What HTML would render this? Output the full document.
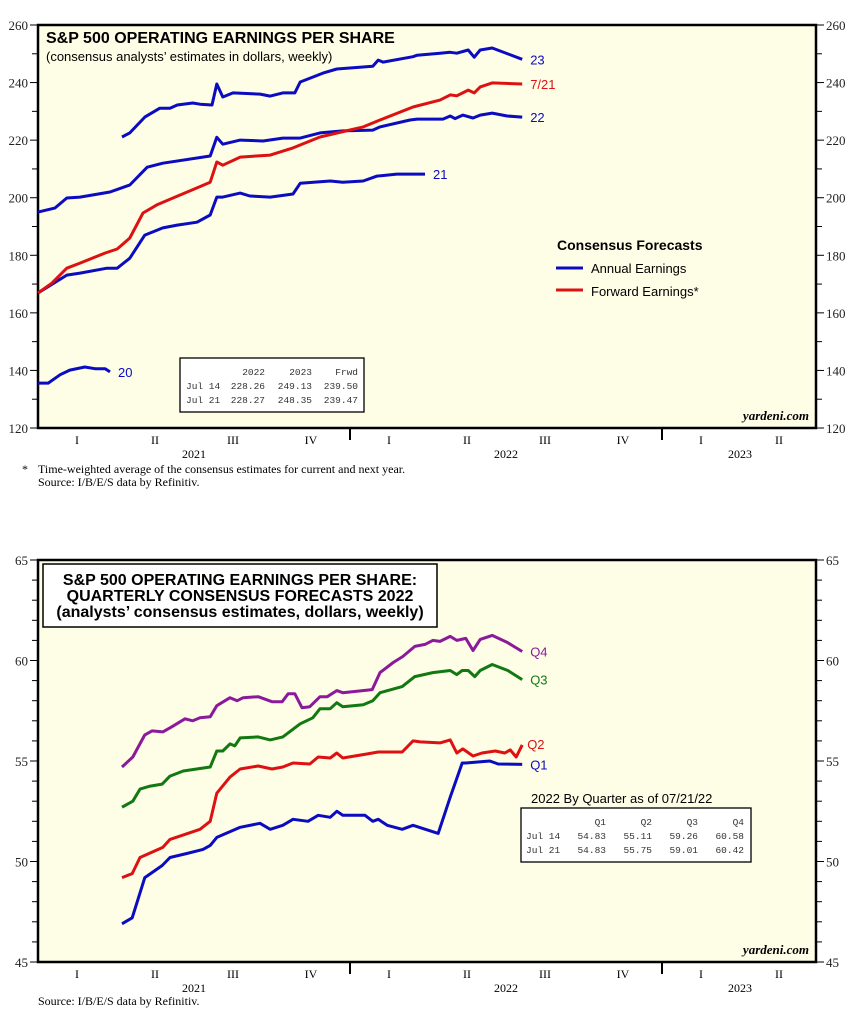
<!DOCTYPE html>
<html><head><meta charset="utf-8"><style>
body{margin:0;background:#fff;width:863px;height:1021px;overflow:hidden}
svg{display:block}
</style></head><body>
<svg id="c" width="863" height="1021" xmlns="http://www.w3.org/2000/svg"></svg>
<script>
// ---- Top chart data (weeks since start of 2021, values in $) ----
const w20=[0,1.7,3.7,5.3,7.8,9.5,11.2,12];
const v20=[135.6,135.6,138.5,140.1,141.2,140.6,140.6,139.5];
const w21=[0,4.8,7,11.5,13.2,15.3,17.8,20.8,23.2,26.5,28.7,29.8,30.8,33.7,35.3,38.7,42.5,43.7,48.7,50.8,54.2,56.5,59.8,64.5];
const v21=[166.9,173.1,173.8,175.5,175.5,179,187,189.5,190.5,191.5,194,200.2,200.2,201.6,200.6,200.2,201.3,205,205.8,205.4,205.8,207.5,208.2,208.2];
const w22=[0,2.8,4.8,7,12,15.3,18.2,20.8,28.7,29.8,30.8,33.7,37.5,40.8,43.7,47,50.8,55.8,57,62,63.2,67.5,68.7,69.5,70.8,72.5,73.7,75.7,78.2,80.7];
const v22=[195,196.4,199.9,200.2,202,204.4,210.6,212,214.5,221,218.6,220,219.7,220.7,220.7,222.5,223.2,223.5,224.6,227,227.3,227.3,228.4,227.5,228.7,227.7,228.7,229.4,228.4,228.0];
const w23=[14,15.3,17.8,20.3,22,23.2,25.8,27,29,29.8,30.8,32.5,37,38.7,40.8,42.8,43.7,47.5,49.8,55.8,56.7,57.5,62.5,63.2,67,68.7,69.8,71.7,72.7,73.7,75.7,80.7];
const v23=[221.1,222.5,228,231.1,231.1,232.2,232.9,232.5,232.2,239.5,235,236.4,236,235.3,236.4,236.4,240.2,243.3,244.7,245.7,247.8,247.1,249,249.5,250.2,250.5,250.2,251.3,248.8,251.3,252,248.1];
const wFw=[0,2.3,4.8,7,11.2,13.2,15.3,17.5,19.8,22.5,26.5,28.7,29.8,30.8,33.7,38.7,42.5,47,54.2,57,62.5,67,68.7,69.8,71.7,72.7,73.7,75.7,80.7];
const vFw=[166.9,170.3,175.5,177.3,180.8,182.2,186,194.7,197.5,199.9,203.4,205.4,212.4,211.3,214.1,214.8,217.3,221.1,224.6,227,231.5,233.9,235.7,235.4,237.4,236.4,238.5,239.9,239.5];
const topTicks=[120,140,160,180,200,220,240,260];
// ---- Bottom chart data ----
const wQ1=[14,15.7,17.8,20.7,22,24.8,27.5,28.7,29.8,33.7,37,38.7,40.8,42.5,45,46.7,48.7,49.8,50.8,54.5,55.8,56.7,58.2,60.7,62.5,66.7,68.7,70.7,71.3,75.3,76.7,80.7];
const vQ1=[46.9,47.2,49.2,49.8,50.2,50.4,50.6,50.8,51.2,51.7,51.9,51.6,51.8,52.1,52,52.3,52.2,52.5,52.3,52.3,52,52.1,51.8,51.6,51.8,51.4,53.2,54.9,54.9,55,54.85,54.83];
const wQ2=[14,15.7,17,20.8,22,27,28.7,29.8,32,33.7,36.7,39,40.8,42.5,45.3,46.7,48.7,49.8,50.8,54.8,56.7,60.7,62.5,63.7,67,68.7,69.8,70.8,72.5,74,76.2,77.8,78.7,79.7,80.7];
const vQ2=[49.2,49.4,50.2,50.7,51.1,51.6,52,53.4,54.2,54.6,54.75,54.6,54.7,54.9,54.85,55.2,55.15,55.4,55.15,55.35,55.45,55.45,56,55.95,55.9,56.05,55.4,55.6,55.25,55.4,55.5,55.4,55.55,55.2,55.8];
const wQ3=[14,15.8,17,18.7,20.7,22,24.2,28.7,29.8,30.8,32,32.8,33.7,36.7,38.7,40.8,43.7,45.8,47,48.7,49.8,50.8,54.2,55.8,57,60.7,62.8,65.8,68.7,69.8,70.7,71.7,72.8,73.7,75.7,78.3,80.7];
const vQ3=[52.7,53,53.6,53.75,53.85,54.25,54.5,54.7,55.5,55.5,55.85,55.75,56.15,56.2,56.05,56.2,56.85,57.15,57.6,57.6,57.9,57.7,57.8,58,58.4,58.7,59.2,59.4,59.5,59.3,59.5,59.5,59.2,59.5,59.8,59.5,59.05];
const wQ4=[14,15.8,17.8,19,20.8,22.3,24.5,25.8,27,28.7,29.8,32,33.2,34.2,36.7,39,40.7,41.7,42.8,44,45.3,47,48.2,49.8,50.8,55.7,57,59.2,60.8,62.8,64.5,65.8,67,68.7,69.8,71.3,72.5,73.7,75.7,78.2,80.7];
const vQ4=[54.7,55.2,56.3,56.5,56.45,56.7,57.1,57,57.15,57.2,57.75,58.15,58,58.15,58.2,57.95,57.95,58.35,58.35,57.65,57.7,58.2,58.2,58.5,58.4,58.55,59.4,59.9,60.2,60.7,60.8,61,60.95,61.2,61.0,61.1,60.5,61.05,61.25,60.9,60.45];
const botTicks=[45,50,55,60,65];
const quarters=['I','II','III','IV','I','II','III','IV','I','II'];
const years=['2021','2022','2023'];

const NS='http://www.w3.org/2000/svg';
const svg=document.getElementById('c');
const X0=38,X1=816,WPX=6;
function mk(tag,attrs,parent){const e=document.createElementNS(NS,tag);for(const k in attrs)e.setAttribute(k,attrs[k]);(parent||svg).appendChild(e);return e;}
function txt(s,x,y,attrs){const e=mk('text',Object.assign({x:x,y:y},attrs));e.textContent=s;return e;}
const xs=w=>X0+w*WPX;

function chart(top,bot,ymin,ymax,major,minorStep,name){
  const ys=v=>bot-(v-ymin)/(ymax-ymin)*(bot-top);
  const g=mk('g',{});
  
  
  const bg=mk('rect',{x:X0,y:top,width:X1-X0,height:bot-top,fill:'#fefde6'},g);
  
  
  for(let v=ymin;v<=ymax+1e-9;v+=minorStep){
    const y=ys(v);
    const isMaj=major.some(m=>Math.abs(m-v)<1e-6);
    const L=isMaj?8:6;
    mk('line',{x1:X0-L,y1:y,x2:X0,y2:y,stroke:'#000','stroke-width':1},g);
    mk('line',{x1:X1,y1:y,x2:X1+L,y2:y,stroke:'#000','stroke-width':1},g);
  }
  major.forEach(m=>{
    const y=ys(m);
    const l=txt(m,X0-10,y+5,{'text-anchor':'end','font-family':'Liberation Serif, serif','font-size':13,fill:'#222'});
    
    
    const r=txt(m,X1+10,y+5,{'font-family':'Liberation Serif, serif','font-size':13,fill:'#222'});
    
    
  });
  mk('rect',{x:X0,y:top,width:X1-X0,height:bot-top,fill:'none',stroke:'#000','stroke-width':2.5},g);
  quarters.forEach((q,i)=>{
    const t=txt(q,xs(i*13+6.5),bot+16,{'text-anchor':'middle','font-family':'Liberation Serif, serif','font-size':12});
    
    
  });
  const yearPos=[26,78,117];
  [0,52,104].forEach((w,i)=>{
    if(w>0)mk('line',{x1:xs(w),y1:bot,x2:xs(w),y2:bot+12,stroke:'#000','stroke-width':2},g);
    const t=txt(years[i],xs(yearPos[i]),bot+30,{'text-anchor':'middle','font-family':'Liberation Serif, serif','font-size':12});
    
    
  });
  const yd=txt('yardeni.com',X1-7,bot-8,{'text-anchor':'end','font-family':'Liberation Serif, serif','font-size':13,'font-weight':'bold','font-style':'italic'});
  
  
  return ys;
}
function line(ws,vs,ys,color,name){
  const d=ws.map((w,i)=>(i?'L':'M')+xs(w).toFixed(1)+' '+ys(vs[i]).toFixed(1)).join(' ');
  const p=mk('path',{d:d,fill:'none',stroke:color,'stroke-width':3,'stroke-linejoin':'round'});
  
  
  return p;
}
function endLabel(s,ws,vs,ys,color,name){
  const t=txt(s,xs(ws[ws.length-1])+8,ys(vs[vs.length-1])+5,{'font-family':'Liberation Sans, sans-serif','font-size':13,fill:color});
  
  
}
const mono={'font-family':'Liberation Mono, monospace','font-size':9.5,fill:'#333'};
function table(rows,x0,colEnds,y0,dy){
  rows.forEach((r,ri)=>{
    r.forEach((c,ci)=>{
      if(ci===0) txt(c,x0,y0+ri*dy,mono);
      else txt(c,colEnds[ci-1],y0+ri*dy,Object.assign({'text-anchor':'end'},mono));
    });
  });
}

// ===== Top chart =====
const ysT=chart(25,428,120,260,topTicks,10,'top-chart');
const BL='#0b0bc0',RD='#dd1111';
line(w20,v20,ysT,BL,'line-2020');endLabel('20',w20,v20,ysT,BL,'label-2020');
line(w21,v21,ysT,BL,'line-2021');endLabel('21',w21,v21,ysT,BL,'label-2021');
line(w22,v22,ysT,BL,'line-2022');endLabel('22',w22,v22,ysT,BL,'label-2022');
line(w23,v23,ysT,BL,'line-2023');endLabel('23',w23,v23,ysT,BL,'label-2023');
line(wFw,vFw,ysT,RD,'line-forward');endLabel('7/21',wFw,vFw,ysT,RD,'label-forward');
let t;
t=txt('S&P 500 OPERATING EARNINGS PER SHARE',46,43,{'font-family':'Liberation Sans, sans-serif','font-size':16,'font-weight':'bold'});


t=txt('(consensus analysts’ estimates in dollars, weekly)',46,61,{'font-family':'Liberation Sans, sans-serif','font-size':13});


t=txt('Consensus Forecasts',557,250,{'font-family':'Liberation Sans, sans-serif','font-size':14,'font-weight':'bold'});


mk('line',{x1:556,y1:268,x2:583,y2:268,stroke:BL,'stroke-width':3});
t=txt('Annual Earnings',591,273,{'font-family':'Liberation Sans, sans-serif','font-size':13});


mk('line',{x1:556,y1:290,x2:583,y2:290,stroke:RD,'stroke-width':3});
t=txt('Forward Earnings*',591,296,{'font-family':'Liberation Sans, sans-serif','font-size':13});


const tb=mk('rect',{x:180,y:358,width:184,height:54,fill:'#fff',stroke:'#000','stroke-width':1.3});


table([['','2022','2023','Frwd'],['Jul 14','228.26','249.13','239.50'],['Jul 21','228.27','248.35','239.47']],186,[265,312,358],375,14);
txt('*',22,473,{'font-family':'Liberation Serif, serif','font-size':12});
t=txt('Time-weighted average of the consensus estimates for current and next year.',38,473,{'font-family':'Liberation Serif, serif','font-size':12});


t=txt('Source: I/B/E/S data by Refinitiv.',38,486,{'font-family':'Liberation Serif, serif','font-size':12});



// ===== Bottom chart =====
const ysB=chart(560,962,45,65,botTicks,1,'bottom-chart');
const PU='#8a1a9a',GR='#127812',R2='#dd1111',B2='#0b0bc0';
line(wQ4,vQ4,ysB,PU,'line-q4');endLabel('Q4',wQ4,vQ4,ysB,PU,'label-q4');
line(wQ3,vQ3,ysB,GR,'line-q3');endLabel('Q3',wQ3,vQ3,ysB,GR,'label-q3');
line(wQ2,vQ2,ysB,R2,'line-q2');
t=txt('Q2',xs(80.7)+5,749,{'font-family':'Liberation Sans, sans-serif','font-size':13,fill:R2});


line(wQ1,vQ1,ysB,B2,'line-q1');endLabel('Q1',wQ1,vQ1,ysB,B2,'label-q1');
const tb2=mk('rect',{x:43,y:564,width:394,height:63,fill:'#fff',stroke:'#000','stroke-width':1.5});


const tf={'font-family':'Liberation Sans, sans-serif','font-size':16,'font-weight':'bold','text-anchor':'middle'};
txt('S&P 500 OPERATING EARNINGS PER SHARE:',240,585,tf);
txt('QUARTERLY CONSENSUS FORECASTS 2022',240,601,tf);
txt('(analysts’ consensus estimates, dollars, weekly)',240,617,tf);
t=txt('2022 By Quarter as of 07/21/22',531,803,{'font-family':'Liberation Sans, sans-serif','font-size':13});


const tb3=mk('rect',{x:521,y:808,width:230,height:54,fill:'#fff',stroke:'#000','stroke-width':1.3});


table([['','Q1','Q2','Q3','Q4'],['Jul 14','54.83','55.11','59.26','60.58'],['Jul 21','54.83','55.75','59.01','60.42']],526,[606,652,698,744],825,14);
t=txt('Source: I/B/E/S data by Refinitiv.',38,1005,{'font-family':'Liberation Serif, serif','font-size':12});


</script>
</body></html>
